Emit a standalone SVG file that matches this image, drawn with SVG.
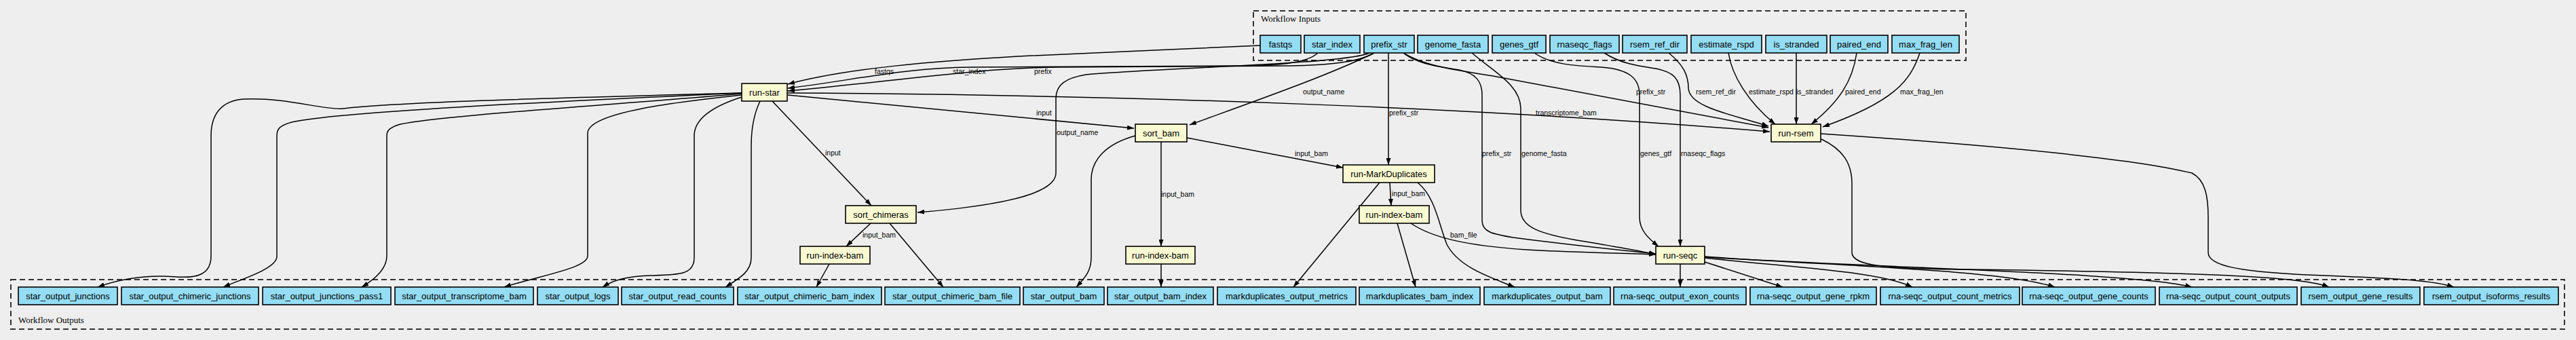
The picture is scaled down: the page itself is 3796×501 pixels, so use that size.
<svg xmlns="http://www.w3.org/2000/svg" width="3796" height="501" viewBox="0 0 3796 501">
<style>
.bg{fill:#eeeeee}
.cl{fill:none;stroke:#333;stroke-width:2;stroke-dasharray:8,5}
.clt{font-family:"Liberation Serif","Times New Roman",serif;font-size:13px;fill:#000}
.io rect{fill:#94DDF4;stroke:#000;stroke-width:1.6}
.st rect{fill:#FAFAD2;stroke:#000;stroke-width:1.6}
.io text,.st text{font-family:"Liberation Sans",Arial,sans-serif;font-size:13px;text-anchor:middle;fill:#000}
#edges path{fill:none;stroke:#000;stroke-width:1.5;marker-end:url(#ah)}
#edges text{font-family:"Liberation Sans",Arial,sans-serif;font-size:10.5px;fill:#000}
</style>
<defs>
<marker id="ah" viewBox="0 0 10 7" refX="10" refY="3.5" markerWidth="10" markerHeight="7" markerUnits="userSpaceOnUse" orient="auto">
<path d="M0,0 L10,3.5 L0,7 z" fill="#000"/>
</marker>
</defs>
<rect class="bg" x="0" y="0" width="3796" height="501"/>

<g id="cluster-inputs">
<rect class="cl" x="1847" y="16" width="1050" height="73"/>
<text class="clt" x="1858" y="32">Workflow Inputs</text>
</g>
<g id="cluster-outputs">
<rect class="cl" x="16" y="412" width="3763" height="73"/>
<text class="clt" x="27" y="476">Workflow Outputs</text>
</g>

<g id="edges">
<path d="M1857,67 C1750,72 1600,78 1500,83 C1380,90 1250,100 1161,124"/>
<path d="M1942,78 C1925,94 1880,97 1820,97 L1430,99 C1330,100 1260,118 1161,130"/>
<path d="M2025,78 C2000,93 1950,96 1900,97 L1560,99 C1440,100 1300,122 1161,134"/>
<path d="M2025,78 C1960,110 1860,145 1753,184"/>
<path d="M2018,78 C1980,95 1700,100 1600,110 C1570,115 1556,125 1556,145 L1556,255 C1556,290 1450,305 1352,313"/>
<path d="M2046,78 L2046,243"/>
<path d="M2068,78 C2085,92 2110,97 2150,103 C2175,108 2184,120 2184,140 L2184,325 C2184,342 2200,345 2230,350 C2320,362 2400,370 2440,374"/>
<path d="M2169,78 C2200,105 2241,125 2241,160 L2241,310 C2241,335 2270,345 2330,355 C2390,365 2420,370 2440,375"/>
<path d="M2261,78 C2285,95 2320,97 2360,99 C2400,102 2416,115 2416,140 L2416,320 C2416,340 2430,352 2444,363"/>
<path d="M2364,78 C2390,95 2420,98 2440,101 C2465,106 2476,115 2476,140 L2476,363"/>
<path d="M2068,78 C2100,98 2150,104 2200,112 L2606,188"/>
<path d="M2459,78 C2480,95 2488,110 2488,130 C2490,160 2560,170 2606,186"/>
<path d="M2547,78 C2552,110 2575,150 2616,183"/>
<path d="M2647,78 L2647,183"/>
<path d="M2736,78 C2730,120 2710,150 2669,183"/>
<path d="M2829,78 C2815,120 2790,150 2686,187"/>
<path d="M1161,137 C1700,140 2200,160 2608,194"/>
<path d="M1161,140 L1671,189"/>
<path d="M1138,149 L1284,303"/>
<path d="M1749,203 L1979,247"/>
<path d="M1711,209 L1711,363"/>
<path d="M1673,200 C1630,212 1608,235 1608,265 L1608,380 C1608,400 1598,410 1586,423"/>
<path d="M1283,329 L1247,363"/>
<path d="M1311,329 L1390,423"/>
<path d="M1222,389 L1203,423"/>
<path d="M1711,389 L1711,423"/>
<path d="M2048,269 L2050,303"/>
<path d="M2033,269 L1906,423"/>
<path d="M2089,269 C2115,290 2120,330 2132,360 C2150,395 2200,410 2232,423"/>
<path d="M2059,329 L2086,423"/>
<path d="M2079,329 C2110,350 2160,362 2250,368 C2340,373 2400,373 2440,375"/>
<path d="M2476,389 L2476,423"/>
<path d="M2512,386 L2627,423"/>
<path d="M2512,380 C2650,395 2770,400 2818,423"/>
<path d="M2512,378 C2700,392 2950,397 3028,423"/>
<path d="M2512,379 C2800,396 3150,402 3230,423"/>
<path d="M2684,205 C2715,220 2729,240 2729,270 L2729,372 C2729,392 2780,396 2900,397 C3300,402 3400,410 3432,423"/>
<path d="M2683,197 C2950,215 3150,235 3230,255 C3250,265 3254,290 3254,320 L3254,372 C3254,392 3300,400 3400,405 C3530,410 3585,413 3616,423"/>
<path d="M1093,137 C800,145 600,150 505,160 C480,163 420,143 360,146 C325,148 311,170 311,200 L311,377 C311,405 290,410 260,408 C220,405 180,410 144,423"/>
<path d="M1093,137 C800,150 500,165 430,180 C412,185 408,190 408,200 L408,378 C408,395 360,410 329,423"/>
<path d="M1093,138 C900,155 650,170 590,183 C574,188 570,192 570,200 L570,377 C570,395 555,410 533,423"/>
<path d="M1093,140 C1000,150 870,165 866,195 L866,377 C866,395 800,405 743,423"/>
<path d="M1093,143 C1040,160 1023,180 1023,200 L1023,380 C1023,405 1000,405 960,406 C925,407 905,412 888,423"/>
<path d="M1120,149 C1110,170 1107,190 1107,215 L1107,380 C1107,400 1090,410 1069,423"/>
<text x="1289" y="108.5">fastqs</text>
<text x="1404" y="108.5">star_index</text>
<text x="1524" y="108.5">prefix</text>
<text x="1527" y="169.5">input</text>
<text x="1557" y="198.5">output_name</text>
<text x="1920" y="138.5">output_name</text>
<text x="2047" y="169.5">prefix_str</text>
<text x="2263" y="169.5">transcriptome_bam</text>
<text x="1908" y="229.5">input_bam</text>
<text x="2184" y="229.5">prefix_str</text>
<text x="2242" y="229.5">genome_fasta</text>
<text x="2411" y="138.5">prefix_str</text>
<text x="2417" y="229.5">genes_gtf</text>
<text x="2477" y="229.5">rnaseqc_flags</text>
<text x="2499" y="138.5">rsem_ref_dir</text>
<text x="2577" y="138.5">estimate_rspd</text>
<text x="2647" y="138.5">is_stranded</text>
<text x="2719" y="138.5">paired_end</text>
<text x="2800" y="138.5">max_frag_len</text>
<text x="1216" y="228.5">input</text>
<text x="1271" y="349.5">input_bam</text>
<text x="1711" y="289.5">input_bam</text>
<text x="2051" y="288.5">input_bam</text>
<text x="2137" y="349.5">bam_file</text>
</g>

<g id="in-fastqs" class="io"><rect x="1857" y="52" width="60" height="26"/><text x="1887" y="69.5">fastqs</text></g>
<g id="in-star_index" class="io"><rect x="1922" y="52" width="82" height="26"/><text x="1963" y="69.5">star_index</text></g>
<g id="in-prefix_str" class="io"><rect x="2010" y="52" width="74" height="26"/><text x="2047" y="69.5">prefix_str</text></g>
<g id="in-genome_fasta" class="io"><rect x="2089" y="52" width="104" height="26"/><text x="2141" y="69.5">genome_fasta</text></g>
<g id="in-genes_gtf" class="io"><rect x="2199" y="52" width="79" height="26"/><text x="2238.5" y="69.5">genes_gtf</text></g>
<g id="in-rnaseqc_flags" class="io"><rect x="2284" y="52" width="102" height="26"/><text x="2335" y="69.5">rnaseqc_flags</text></g>
<g id="in-rsem_ref_dir" class="io"><rect x="2391" y="52" width="95" height="26"/><text x="2438.5" y="69.5">rsem_ref_dir</text></g>
<g id="in-estimate_rspd" class="io"><rect x="2492" y="52" width="104" height="26"/><text x="2544" y="69.5">estimate_rspd</text></g>
<g id="in-is_stranded" class="io"><rect x="2602" y="52" width="90" height="26"/><text x="2647" y="69.5">is_stranded</text></g>
<g id="in-paired_end" class="io"><rect x="2697" y="52" width="85" height="26"/><text x="2739.5" y="69.5">paired_end</text></g>
<g id="in-max_frag_len" class="io"><rect x="2788" y="52" width="99" height="26"/><text x="2837.5" y="69.5">max_frag_len</text></g>

<g id="run-star" class="st"><rect x="1093" y="123" width="67" height="26"/><text x="1126.5" y="140.5">run-star</text></g>
<g id="sort_bam" class="st"><rect x="1673" y="183" width="76" height="26"/><text x="1711" y="200.5">sort_bam</text></g>
<g id="run-rsem" class="st"><rect x="2610" y="183" width="73" height="26"/><text x="2646.5" y="200.5">run-rsem</text></g>
<g id="run-MarkDuplicates" class="st"><rect x="1979" y="243" width="135" height="26"/><text x="2046.5" y="260.5">run-MarkDuplicates</text></g>
<g id="sort_chimeras" class="st"><rect x="1246" y="303" width="104" height="26"/><text x="1298" y="320.5">sort_chimeras</text></g>
<g id="run-index-bam-3" class="st"><rect x="2003" y="303" width="103" height="26"/><text x="2054.5" y="320.5">run-index-bam</text></g>
<g id="run-index-bam-1" class="st"><rect x="1179" y="363" width="103" height="26"/><text x="1230.5" y="380.5">run-index-bam</text></g>
<g id="run-index-bam-2" class="st"><rect x="1659" y="363" width="102" height="26"/><text x="1710" y="380.5">run-index-bam</text></g>
<g id="run-seqc" class="st"><rect x="2440" y="363" width="72" height="26"/><text x="2476" y="380.5">run-seqc</text></g>

<g id="out-star_output_junctions" class="io"><rect x="27" y="423" width="146" height="26"/><text x="100" y="440.5">star_output_junctions</text></g>
<g id="out-star_output_chimeric_junctions" class="io"><rect x="179" y="423" width="202" height="26"/><text x="280" y="440.5">star_output_chimeric_junctions</text></g>
<g id="out-star_output_junctions_pass1" class="io"><rect x="387" y="423" width="189" height="26"/><text x="481.5" y="440.5">star_output_junctions_pass1</text></g>
<g id="out-star_output_transcriptome_bam" class="io"><rect x="582" y="423" width="204" height="26"/><text x="684" y="440.5">star_output_transcriptome_bam</text></g>
<g id="out-star_output_logs" class="io"><rect x="792" y="423" width="119" height="26"/><text x="851.5" y="440.5">star_output_logs</text></g>
<g id="out-star_output_read_counts" class="io"><rect x="916" y="423" width="165" height="26"/><text x="998.5" y="440.5">star_output_read_counts</text></g>
<g id="out-star_output_chimeric_bam_index" class="io"><rect x="1087" y="423" width="212" height="26"/><text x="1193" y="440.5">star_output_chimeric_bam_index</text></g>
<g id="out-star_output_chimeric_bam_file" class="io"><rect x="1304" y="423" width="199" height="26"/><text x="1403.5" y="440.5">star_output_chimeric_bam_file</text></g>
<g id="out-star_output_bam" class="io"><rect x="1508" y="423" width="119" height="26"/><text x="1567.5" y="440.5">star_output_bam</text></g>
<g id="out-star_output_bam_index" class="io"><rect x="1632" y="423" width="156" height="26"/><text x="1710" y="440.5">star_output_bam_index</text></g>
<g id="out-markduplicates_output_metrics" class="io"><rect x="1794" y="423" width="204" height="26"/><text x="1896" y="440.5">markduplicates_output_metrics</text></g>
<g id="out-markduplicates_bam_index" class="io"><rect x="2003" y="423" width="178" height="26"/><text x="2092" y="440.5">markduplicates_bam_index</text></g>
<g id="out-markduplicates_output_bam" class="io"><rect x="2187" y="423" width="186" height="26"/><text x="2280" y="440.5">markduplicates_output_bam</text></g>
<g id="out-rna-seqc_output_exon_counts" class="io"><rect x="2378" y="423" width="195" height="26"/><text x="2475.5" y="440.5">rna-seqc_output_exon_counts</text></g>
<g id="out-rna-seqc_output_gene_rpkm" class="io"><rect x="2579" y="423" width="186" height="26"/><text x="2672" y="440.5">rna-seqc_output_gene_rpkm</text></g>
<g id="out-rna-seqc_output_count_metrics" class="io"><rect x="2771" y="423" width="205" height="26"/><text x="2873.5" y="440.5">rna-seqc_output_count_metrics</text></g>
<g id="out-rna-seqc_output_gene_counts" class="io"><rect x="2980" y="423" width="196" height="26"/><text x="3078" y="440.5">rna-seqc_output_gene_counts</text></g>
<g id="out-rna-seqc_output_count_outputs" class="io"><rect x="3182" y="423" width="203" height="26"/><text x="3283.5" y="440.5">rna-seqc_output_count_outputs</text></g>
<g id="out-rsem_output_gene_results" class="io"><rect x="3391" y="423" width="175" height="26"/><text x="3478.5" y="440.5">rsem_output_gene_results</text></g>
<g id="out-rsem_output_isoforms_results" class="io"><rect x="3572" y="423" width="198" height="26"/><text x="3671" y="440.5">rsem_output_isoforms_results</text></g>
</svg>
